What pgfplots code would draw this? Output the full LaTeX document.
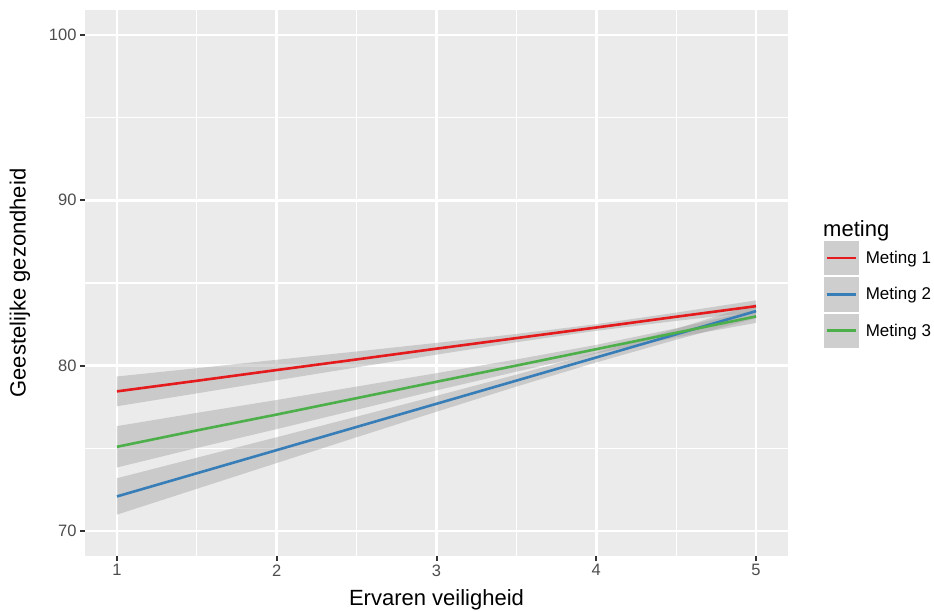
\documentclass[border=0pt]{standalone}
\usepackage{pgfplots}
\pgfplotsset{compat=1.18}
\usepackage{pgfplotstable}
\usepgfplotslibrary{fillbetween}
\usepackage{fontspec}
\setmainfont{Liberation Sans}
\definecolor{ggbg}{RGB}{235,235,235}
\definecolor{ggtick}{RGB}{51,51,51}
\definecolor{ggtext}{RGB}{77,77,77}
\definecolor{ggband}{RGB}{153,153,153}
\definecolor{ggkey}{RGB}{206,206,206}
\definecolor{m1}{RGB}{228,26,28}
\definecolor{m2}{RGB}{55,126,184}
\definecolor{m3}{RGB}{77,175,74}

\pgfplotstableread{
x   m     lo    hi
1   78.45 77.55 79.35
1.5 79.09 78.33 79.85
2   79.74 79.12 80.36
2.5 80.38 79.90 80.86
3   81.03 80.67 81.38
3.5 81.67 81.42 81.92
4   82.31 82.11 82.51
4.5 82.96 82.71 83.21
5   83.60 83.25 83.95
}\metingA

\pgfplotstableread{
x   m     lo    hi
1   72.10 71.00 73.20
1.5 73.50 72.56 74.44
2   74.90 74.12 75.68
2.5 76.30 75.68 76.92
3   77.70 77.22 78.18
3.5 79.10 78.74 79.46
4   80.50 80.20 80.80
4.5 81.90 81.57 82.23
5   83.30 82.87 83.73
}\metingB

\pgfplotstableread{
x   m     lo    hi
1   75.10 73.85 76.35
1.5 76.09 75.03 77.15
2   77.05 76.17 77.93
2.5 78.04 77.34 78.74
3   79.03 78.51 79.55
3.5 80.01 79.64 80.38
4   81.00 80.74 81.26
4.5 81.99 81.71 82.26
5   82.98 82.59 83.38
}\metingC

\begin{document}
\begin{tikzpicture}
\begin{axis}[
  at={(85pt,55pt)}, anchor=south west,
  width=703pt, height=546pt, scale only axis,
  xmin=0.8, xmax=5.2, ymin=68.5, ymax=101.5,
  clip mode=individual,
  xtick={1,2,3,4,5}, ytick={70,80,90,100},
  minor xtick={1.5,2.5,3.5,4.5}, minor ytick={75,85,95},
  grid=both,
  major grid style={white, line width=2.6pt},
  minor grid style={white, line width=1.3pt},
  axis background/.style={fill=ggbg},
  axis line style={draw=none},
  tick align=outside, tick pos=left,
  major tick length=5pt, minor tick length=0pt,
  major tick style={ggtick, line width=2pt},
  minor tick style={draw=none},
  ticklabel style={font=\fontsize{16.5}{18}\selectfont, text=ggtext},
  /pgf/number format/assume math mode=true,
  xlabel={Ervaren veiligheid}, ylabel={Geestelijke gezondheid},
  label style={font=\fontsize{22}{24}\selectfont},
  xlabel style={at={(axis description cs:0.5,-0.091)}, anchor=base},
  ylabel style={at={(axis description cs:-0.0925,0.5)}, anchor=center},
  legend style={at={(axis description cs:1.0498,0.5788)}, anchor=north west,
    draw=none, fill=none, inner sep=0pt, outer sep=0pt,
    row sep=0pt, column sep=6pt,
    font=\fontsize{17}{18}\selectfont, nodes={inner sep=0pt}},
  legend cell align=left,
  legend image code/.code={
    \fill[ggkey, draw=white, line width=0.8pt] (0pt,-17.75pt) rectangle (36pt,17.75pt);
    \draw[#1, line width=2.6pt] (3.5pt,0pt) -- (32.5pt,0pt);
  },
]
% confidence bands
\addplot[name path=aL, draw=none, forget plot] table[x=x, y=lo] {\metingA};
\addplot[name path=aH, draw=none, forget plot] table[x=x, y=hi] {\metingA};
\addplot[fill=ggband, fill opacity=0.4, draw=none, forget plot] fill between[of=aL and aH];
\addplot[name path=bL, draw=none, forget plot] table[x=x, y=lo] {\metingB};
\addplot[name path=bH, draw=none, forget plot] table[x=x, y=hi] {\metingB};
\addplot[fill=ggband, fill opacity=0.4, draw=none, forget plot] fill between[of=bL and bH];
\addplot[name path=cL, draw=none, forget plot] table[x=x, y=lo] {\metingC};
\addplot[name path=cH, draw=none, forget plot] table[x=x, y=hi] {\metingC};
\addplot[fill=ggband, fill opacity=0.4, draw=none, forget plot] fill between[of=cL and cH];
% fitted lines
\addplot[m1, line width=2.6pt, no markers] table[x=x, y=m] {\metingA};
\addlegendentry{Meting 1}
\addplot[m2, line width=2.6pt, no markers] table[x=x, y=m] {\metingB};
\addlegendentry{Meting 2}
\addplot[m3, line width=2.6pt, no markers] table[x=x, y=m] {\metingC};
\addlegendentry{Meting 3}
\end{axis}
\node[anchor=base west, font=\fontsize{22}{24}\selectfont, inner sep=0pt] at (823pt,374pt) {meting};
\pgfresetboundingbox
\path (0pt,0pt) rectangle (934pt,611pt);
\end{tikzpicture}
\end{document}
